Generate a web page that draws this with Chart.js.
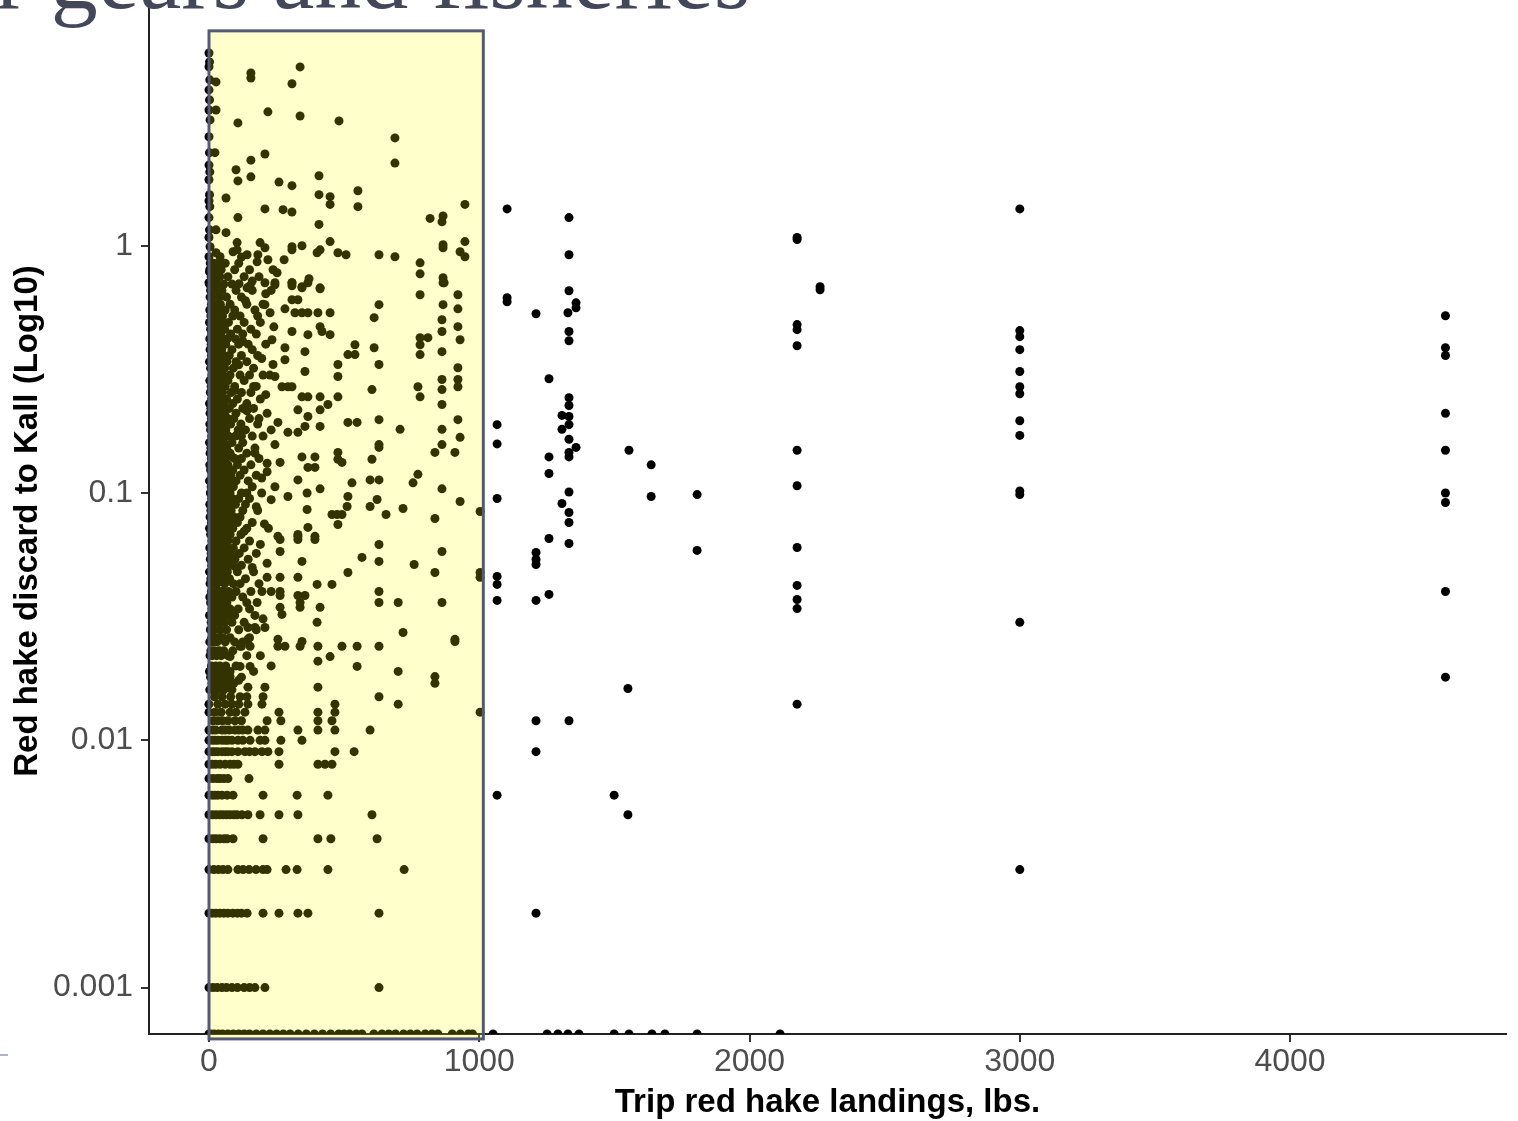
<!DOCTYPE html>
<html lang="en">
<head>
    <meta charset="UTF-8">
    <title>Red hake discard ratio vs trip landings</title>
    <script src="https://cdn.jsdelivr.net/npm/chart.js"></script>
    <style>
        body { margin: 0; background: #fff; overflow: hidden; }
        #wrap { position: relative; width: 1518px; height: 1121px; }
        #slideTitle {
            position: absolute; left: -4px; top: -71px; margin: 0;
            font: 94px/1 'Liberation Serif', 'DejaVu Serif', serif;
            color: #43475a; white-space: nowrap;
        }
        #dash { position: absolute; left: 0; top: 1054px; width: 8px; height: 2px; background: #a7b6cc; }
        canvas { position: absolute; left: 0; top: 0; }
    </style>
</head>
<body>
<div id="wrap">
    <canvas id="hakeChart" width="1518" height="1121"></canvas>
    <div id="slideTitle">r gears and fisheries</div>
    <div id="dash"></div>
</div>

<script>
    // axis ticks
    const xTicks = [0, 1000, 2000, 3000, 4000];
    const yTicks = [0.001, 0.01, 0.1, 1];
    const xRange = [-222, 4799];
    const yRange = [0.000649, 9.155];

    // highlighted box (landings under ~1000 lbs)
    const boxX = [0, 1015];
    const boxY = [0.00062, 7.4];

    // trips with zero discard (drawn on the bottom edge, like -Inf on a log scale)
    const zeroDiscardLandings = [0, 8, 20, 35, 50, 70, 90, 110, 130, 150, 175, 200, 225, 250, 275, 300, 330, 360,
        390, 420, 450, 480, 500, 520, 545, 566, 610, 640, 665, 690, 720, 745, 770, 800, 825, 847, 900, 930, 960, 975,
        1051, 1251, 1291, 1328, 1369, 1499, 1554, 1639, 1687, 1806, 2113];

    // [landings, discard ratio] — points near x = 0 and the top of the plot
    const edgeTrips = [[0,6.02],[2,5.54],[0,5.3],[3,4.69],[26,4.6],[0,4.27],[2,3.89],[0,3.54],[26,3.54],[4,3.23],
        [0,2.76],[2,2.38],[22,2.38],[0,2.12],[3,1.99],[0,1.85],[2,1.61],[0,1.52],[3,1.44],[0,1.3],[2,1.16],[0,1.08],
        [4,0.991],[0,0.903],[2,0.785],[0,0.709],
        [337,5.29],[155,5.0],[155,4.77],[307,4.52],[218,3.48],[337,3.35],[107,3.14],[481,3.2],[688,2.73],[688,2.16],
        [207,2.35],[155,2.22],[100,2.03],[107,1.83],[155,1.9],[259,1.81],[307,1.75],[407,1.92],[63,1.56],[407,1.61],
        [448,1.58],[448,1.47],[551,1.67],[551,1.44],[947,1.47],[207,1.41],[274,1.4],[307,1.37],[107,1.3],[818,1.29],
        [866,1.32],[862,1.25],[407,1.22],[63,1.13],[26,1.16],[104,1.03],[104,0.963],[89,0.946],[189,1.03],[207,0.982],
        [181,0.92],[218,0.878],[178,0.861],[141,0.92],[307,0.991],[307,0.963],[344,1.0],[400,0.937],[411,0.963],
        [448,1.04],[477,0.937],[507,0.92],[629,0.92],[688,0.903],[278,0.878],[866,1.01],[866,0.982],[947,1.04],
        [929,0.946],[947,0.903],[781,0.853],[781,0.77],[866,0.743],[866,0.709],[237,0.8],[252,0.778],[111,0.702],
        [152,0.689],[141,0.676],[207,0.709],[244,0.695],[307,0.709],[307,0.689],[344,0.683],[370,0.736],[411,0.67],
        [26,0.937],[41,0.903],[26,0.823],[26,0.778]];

    // [landings, discard ratio] — dense cluster at low landings (estimated)
    const denseTrips = [
        [5,0.85],[18,0.85],[35,0.85],[60,0.85],[110,0.85],
        [3,0.8],[12,0.8],[28,0.8],[45,0.8],[95,0.8],[150,0.8],
        [8,0.75],[22,0.75],[40,0.75],[70,0.75],[130,0.75],[185,0.75],
        [2,0.7],[15,0.7],[30,0.7],[55,0.7],[85,0.7],
        [6,0.66],[20,0.66],[48,0.66],[100,0.66],[160,0.66],[230,0.66],
        [4,0.62],[12,0.62],[38,0.62],[65,0.62],[120,0.62],
        [9,0.58],[25,0.58],[42,0.58],[78,0.58],[140,0.58],[200,0.58],
        [3,0.55],[17,0.55],[33,0.55],[60,0.55],[95,0.55],[170,0.55],
        [7,0.52],[22,0.52],[50,0.52],[88,0.52],[115,0.52],
        [2,0.49],[14,0.49],[30,0.49],[45,0.49],[72,0.49],[130,0.49],[190,0.49],
        [6,0.46],[19,0.46],[36,0.46],[58,0.46],[105,0.46],[155,0.46],
        [10,0.44],[26,0.44],[44,0.44],[80,0.44],[125,0.44],[175,0.44],
        [3,0.42],[15,0.42],[32,0.42],[52,0.42],[68,0.42],[98,0.42],
        [8,0.4],[21,0.4],[39,0.4],[62,0.4],[110,0.4],[145,0.4],[210,0.4],
        [4,0.38],[13,0.38],[28,0.38],[47,0.38],[85,0.38],[160,0.38],
        [9,0.36],[24,0.36],[35,0.36],[55,0.36],[75,0.36],[120,0.36],[180,0.36],
        [2,0.34],[16,0.34],[30,0.34],[48,0.34],[66,0.34],[100,0.34],[140,0.34],
        [6,0.32],[20,0.32],[40,0.32],[58,0.32],[90,0.32],[165,0.32],
        [11,0.3],[25,0.3],[37,0.3],[52,0.3],[78,0.3],[115,0.3],[150,0.3],[200,0.3],
        [3,0.285],[14,0.285],[29,0.285],[44,0.285],[70,0.285],[130,0.285],
        [8,0.27],[22,0.27],[35,0.27],[60,0.27],[95,0.27],[175,0.27],
        [5,0.255],[17,0.255],[31,0.255],[50,0.255],[82,0.255],[120,0.255],[155,0.255],
        [10,0.24],[26,0.24],[42,0.24],[65,0.24],[105,0.24],[190,0.24],
        [2,0.23],[13,0.23],[34,0.23],[55,0.23],[88,0.23],[140,0.23],
        [7,0.22],[20,0.22],[38,0.22],[48,0.22],[75,0.22],[125,0.22],[165,0.22],
        [4,0.21],[16,0.21],[30,0.21],[58,0.21],[100,0.21],[215,0.21],
        [9,0.2],[24,0.2],[44,0.2],[70,0.2],[92,0.2],[150,0.2],
        [3,0.19],[12,0.19],[28,0.19],[52,0.19],[80,0.19],[118,0.19],[180,0.19],
        [6,0.18],[19,0.18],[36,0.18],[62,0.18],[108,0.18],[135,0.18],
        [10,0.17],[25,0.17],[45,0.17],[72,0.17],[98,0.17],[160,0.17],[200,0.17],
        [2,0.16],[15,0.16],[32,0.16],[55,0.16],[85,0.16],[125,0.16],
        [7,0.152],[21,0.152],[40,0.152],[66,0.152],[110,0.152],[170,0.152],
        [4,0.145],[13,0.145],[29,0.145],[50,0.145],[78,0.145],[140,0.145],
        [9,0.138],[23,0.138],[38,0.138],[60,0.138],[95,0.138],[120,0.138],[185,0.138],
        [3,0.13],[17,0.13],[34,0.13],[48,0.13],[70,0.13],[105,0.13],[155,0.13],
        [6,0.124],[20,0.124],[42,0.124],[63,0.124],[88,0.124],[130,0.124],
        [11,0.118],[27,0.118],[36,0.118],[58,0.118],[80,0.118],[115,0.118],[175,0.118],
        [2,0.112],[14,0.112],[31,0.112],[50,0.112],[72,0.112],[100,0.112],[145,0.112],
        [8,0.106],[22,0.106],[44,0.106],[65,0.106],[90,0.106],[160,0.106],
        [5,0.1],[18,0.1],[35,0.1],[55,0.1],[78,0.1],[120,0.1],[195,0.1],
        [10,0.095],[26,0.095],[40,0.095],[62,0.095],[85,0.095],[110,0.095],[150,0.095],
        [3,0.09],[15,0.09],[30,0.09],[48,0.09],[70,0.09],[98,0.09],[135,0.09],
        [7,0.085],[21,0.085],[38,0.085],[56,0.085],[82,0.085],[125,0.085],[180,0.085],
        [4,0.08],[12,0.08],[28,0.08],[45,0.08],[66,0.08],[92,0.08],[115,0.08],
        [9,0.076],[24,0.076],[36,0.076],[52,0.076],[75,0.076],[105,0.076],[160,0.076],
        [2,0.072],[16,0.072],[33,0.072],[60,0.072],[88,0.072],[140,0.072],[220,0.072],
        [6,0.068],[19,0.068],[42,0.068],[58,0.068],[78,0.068],[118,0.068],
        [11,0.064],[27,0.064],[39,0.064],[50,0.064],[70,0.064],[100,0.064],[150,0.064],
        [3,0.06],[14,0.06],[30,0.06],[46,0.06],[65,0.06],[90,0.06],[130,0.06],
        [8,0.057],[22,0.057],[36,0.057],[55,0.057],[80,0.057],[112,0.057],[175,0.057],
        [5,0.054],[18,0.054],[32,0.054],[48,0.054],[72,0.054],[96,0.054],[145,0.054],
        [10,0.051],[25,0.051],[40,0.051],[62,0.051],[85,0.051],[120,0.051],
        [2,0.048],[15,0.048],[28,0.048],[44,0.048],[68,0.048],[105,0.048],[165,0.048],
        [7,0.045],[20,0.045],[35,0.045],[52,0.045],[76,0.045],[135,0.045],
        [4,0.043],[12,0.043],[30,0.043],[58,0.043],[90,0.043],[115,0.043],
        [9,0.04],[23,0.04],[38,0.04],[50,0.04],[72,0.04],[100,0.04],[155,0.04],
        [3,0.038],[17,0.038],[33,0.038],[62,0.038],[85,0.038],[125,0.038],
        [6,0.036],[20,0.036],[44,0.036],[66,0.036],[140,0.036],
        [11,0.034],[26,0.034],[40,0.034],[55,0.034],[78,0.034],[108,0.034],
        [2,0.032],[14,0.032],[30,0.032],[48,0.032],[70,0.032],[95,0.032],[170,0.032],
        [8,0.03],[22,0.03],[36,0.03],[58,0.03],[85,0.03],[130,0.03],
        [5,0.028],[18,0.028],[42,0.028],[65,0.028],[110,0.028],
        [10,0.026],[24,0.026],[34,0.026],[52,0.026],[78,0.026],[150,0.026],
        [3,0.025],[15,0.025],[30,0.025],[60,0.025],[95,0.025],[125,0.025],
        [7,0.023],[20,0.023],[38,0.023],[55,0.023],[88,0.023],
        [4,0.022],[12,0.022],[28,0.022],[45,0.022],[70,0.022],[140,0.022],
        [9,0.02],[25,0.02],[40,0.02],[62,0.02],[100,0.02],
        [2,0.019],[16,0.019],[33,0.019],[52,0.019],[78,0.019],
        [6,0.018],[20,0.018],[36,0.018],[60,0.018],[120,0.018],
        [11,0.017],[27,0.017],[45,0.017],[68,0.017],[92,0.017],
        [3,0.016],[14,0.016],[30,0.016],[55,0.016],[85,0.016]];

    // [landings, discard ratio] — outer edge of the dense cluster (estimated)
    const spreadTrips = [[120,0.9],[160,0.72],[210,0.64],[135,0.6],[180,0.52],[240,0.47],[125,0.41],[195,0.35],
        [225,0.3],[165,0.27],[210,0.25],[140,0.215],[185,0.2],[230,0.18],[120,0.17],[170,0.145],[215,0.132],
        [195,0.115],[140,0.1],[230,0.094],[175,0.088],[205,0.075],[130,0.07],[190,0.062],[160,0.05],[215,0.052],
        [185,0.043],[230,0.04],[150,0.034],[200,0.031],[175,0.028],[120,0.024],[190,0.022],[165,0.019],
        [110,0.0175],[230,0.02],[100,0.05],[95,0.26],[110,0.33],[85,0.14]];

    // [landings, discard ratio] — rounded low ratios (0.001 .. 0.015)
    const lowRatioTrips = [
        [0,0.001],[15,0.001],[30,0.001],[48,0.001],[65,0.001],[85,0.001],[105,0.001],[130,0.001],[150,0.001],[170,0.001],[207,0.001],[629,0.001],
        [0,0.002],[12,0.002],[25,0.002],[40,0.002],[55,0.002],[70,0.002],[88,0.002],[105,0.002],[120,0.002],[141,0.002],[200,0.002],[259,0.002],[329,0.002],[366,0.002],[629,0.002],
        [0,0.003],[18,0.003],[35,0.003],[52,0.003],[70,0.003],[107,0.003],[126,0.003],[148,0.003],[174,0.003],[200,0.003],[215,0.003],[285,0.003],[326,0.003],[440,0.003],[722,0.003],
        [0,0.004],[14,0.004],[26,0.004],[40,0.004],[56,0.004],[67,0.004],[89,0.004],[200,0.004],[403,0.004],[451,0.004],[622,0.004],
        [0,0.005],[13,0.005],[26,0.005],[40,0.005],[52,0.005],[65,0.005],[78,0.005],[92,0.005],[104,0.005],[122,0.005],[144,0.005],[189,0.005],[259,0.005],[329,0.005],[603,0.005],
        [0,0.006],[12,0.006],[22,0.006],[33,0.006],[48,0.006],[67,0.006],[89,0.006],[200,0.006],[326,0.006],[440,0.006],
        [0,0.007],[15,0.007],[30,0.007],[41,0.007],[55,0.007],[70,0.007],[148,0.007],
        [0,0.008],[12,0.008],[25,0.008],[41,0.008],[60,0.008],[78,0.008],[92,0.008],[107,0.008],[259,0.008],[403,0.008],[429,0.008],[455,0.008],
        [0,0.009],[12,0.009],[22,0.009],[33,0.009],[48,0.009],[60,0.009],[70,0.009],[85,0.009],[107,0.009],[133,0.009],[150,0.009],[170,0.009],[196,0.009],[218,0.009],[259,0.009],[466,0.009],[537,0.009],
        [0,0.01],[12,0.01],[22,0.01],[33,0.01],[48,0.01],[60,0.01],[70,0.01],[85,0.01],[107,0.01],[125,0.01],[152,0.01],[189,0.01],[207,0.01],[266,0.01],[344,0.01],
        [0,0.011],[14,0.011],[25,0.011],[48,0.011],[60,0.011],[75,0.011],[96,0.011],[110,0.011],[125,0.011],[144,0.011],[181,0.011],[207,0.011],[329,0.011],[403,0.011],[466,0.011],[596,0.011],
        [15,0.012],[33,0.012],[50,0.012],[70,0.012],[96,0.012],[120,0.012],[215,0.012],[266,0.012],[403,0.012],[455,0.012],
        [0,0.013],[22,0.013],[45,0.013],[78,0.013],[100,0.013],[133,0.013],[259,0.013],[403,0.013],[466,0.013],
        [0,0.014],[33,0.014],[60,0.014],[85,0.014],[110,0.014],[144,0.014],[196,0.014],[466,0.014],[700,0.014],
        [20,0.015],[48,0.015],[80,0.015],[115,0.015],[140,0.015],[200,0.015],[629,0.015]];

    // [landings, discard ratio] — scattered trips from ~200 to ~1000 lbs
    const midTrips = [
        [244,0.709],[307,0.709],[366,0.709],[870,0.709],[144,0.676],[344,0.676],[411,0.676],[781,0.634],[921,0.634],
        [307,0.605],[329,0.605],[207,0.578],[629,0.578],[866,0.578],[921,0.556],[281,0.556],[226,0.536],[318,0.536],
        [344,0.536],[366,0.536],[403,0.536],[448,0.536],[611,0.512],[862,0.502],[411,0.471],[921,0.471],[307,0.45],
        [418,0.45],[862,0.45],[366,0.437],[448,0.437],[810,0.425],[781,0.425],[233,0.417],[929,0.417],[540,0.398],
        [781,0.398],[611,0.387],[281,0.387],[355,0.373],[862,0.373],[514,0.363],[540,0.363],[781,0.363],[281,0.346],
        [477,0.331],[629,0.331],[237,0.331],[921,0.321],[355,0.31],[244,0.296],[477,0.296],[921,0.288],[862,0.288],
        [270,0.269],[292,0.269],[307,0.269],[773,0.269],[921,0.269],[603,0.262],[862,0.262],[344,0.245],[366,0.245],
        [411,0.245],[477,0.245],[781,0.245],[440,0.228],[862,0.228],[329,0.217],[411,0.217],[366,0.204],[629,0.198],
        [921,0.198],[514,0.193],[548,0.193],[255,0.193],[355,0.186],[411,0.186],[707,0.181],[862,0.181],[292,0.176],
        [329,0.176],[929,0.168],[244,0.157],[629,0.157],[862,0.157],[629,0.153],[477,0.146],[836,0.146],[910,0.146],
        [344,0.14],[392,0.14],[603,0.137],[477,0.137],[263,0.133],[492,0.133],[366,0.127],[392,0.127],[215,0.122],
        [773,0.119],[596,0.113],[629,0.113],[329,0.113],[529,0.11],[755,0.11],[244,0.106],[411,0.104],[862,0.104],
        [363,0.1],[514,0.0968],[292,0.0968],[622,0.0942],[929,0.0924],[596,0.0882],[511,0.0882],[718,0.0866],
        [363,0.0858],[1003,0.0842],[455,0.0819],[474,0.0819],[492,0.0819],[655,0.0819],[836,0.0789],[477,0.0746],
        [366,0.0726],[255,0.0668],[329,0.0668],[392,0.0668],[329,0.068],[329,0.0649],[392,0.0649],[263,0.0649],
        [629,0.0619],[263,0.058],[862,0.058],[566,0.0549],[344,0.0529],[629,0.0529],[759,0.0514],[514,0.0477],
        [836,0.0477],[1003,0.0477],[215,0.0456],[263,0.0456],[329,0.0456],[1003,0.0456],[400,0.0427],[455,0.0427],
        [196,0.04],[263,0.04],[629,0.04],[329,0.0385],[355,0.0385],[263,0.0385],[178,0.0361],[337,0.0361],
        [629,0.0361],[700,0.0361],[862,0.0361],[337,0.0345],[411,0.0345],[263,0.0345],[270,0.0323],[400,0.03],
        [144,0.0286],[170,0.0286],[207,0.0286],[718,0.0273],[144,0.0256],[255,0.0256],[910,0.0256],[344,0.0251],
        [910,0.0251],[115,0.024],[152,0.024],[255,0.024],[281,0.024],[337,0.024],[403,0.024],[492,0.024],[548,0.024],
        [629,0.024],[78,0.0218],[448,0.0218],[403,0.0209],[115,0.0199],[152,0.0199],[548,0.0199],[700,0.019],
        [78,0.0181],[836,0.0181],[836,0.017],[70,0.0164],[144,0.0164],[207,0.0164],[403,0.0164],[1003,0.013]];

    // [landings, discard ratio] — trips above 1000 lbs
    const largeTrips = [
        [1103,1.41],[1332,1.3],[1332,0.92],[1332,0.658],[1103,0.617],[1103,0.594],[1358,0.588],[1358,0.561],
        [1210,0.531],[1328,0.536],[1332,0.45],[1332,0.413],[1258,0.29],[1332,0.243],[1332,0.226],[1306,0.206],
        [1332,0.204],[1332,0.189],[1306,0.181],[1066,0.189],[1066,0.158],[1332,0.165],[1358,0.153],[1332,0.146],
        [1332,0.14],[1258,0.14],[1554,0.149],[1636,0.13],[1258,0.12],[1066,0.095],[1332,0.101],[1306,0.0907],
        [1332,0.0834],[1332,0.076],[1636,0.0968],[1806,0.0986],[1258,0.0655],[1332,0.0625],[1210,0.0575],
        [1210,0.0539],[1210,0.0514],[1806,0.0586],[1066,0.046],[1066,0.0427],[1066,0.0368],[1210,0.0368],
        [1258,0.0389],[1066,0.006],[1210,0.012],[1210,0.009],[1210,0.002],[1332,0.012],[1499,0.006],[1550,0.005],
        [1550,0.0162],
        [2176,1.08],[2176,1.06],[2261,0.683],[2261,0.664],[2176,0.48],[2176,0.458],[2176,0.394],[2176,0.149],
        [2176,0.107],[2176,0.0602],[2176,0.0423],[2176,0.0371],[2176,0.0341],[2176,0.014],
        [3000,1.41],[3000,0.454],[3000,0.429],[3000,0.38],[3000,0.31],[3000,0.269],[3000,0.252],[3000,0.196],
        [3000,0.171],[3000,0.102],[3000,0.0986],[3000,0.03],[3000,0.003],
        [4575,0.521],[4575,0.387],[4575,0.36],[4575,0.21],[4575,0.149],[4575,0.1],[4575,0.0916],[4575,0.04],[4575,0.018]];

    const allTrips = [...edgeTrips, ...denseTrips, ...spreadTrips, ...lowRatioTrips, ...midTrips, ...largeTrips]
        .map(([x, y]) => ({ x: x, y: y }))
        .concat(zeroDiscardLandings.map(x => ({ x: x, y: yRange[0] })));

    const whiteBg = {
        id: 'whiteBg',
        beforeDraw(chart) {
            const ctx = chart.ctx;
            ctx.save();
            ctx.fillStyle = '#ffffff';
            ctx.fillRect(0, 0, chart.width, chart.height);
            ctx.restore();
        }
    };

    const highlightBox = {
        id: 'highlightBox',
        afterDraw(chart) {
            const { ctx, scales: { x, y } } = chart;
            const left = x.getPixelForValue(boxX[0]);
            const right = x.getPixelForValue(boxX[1]);
            const top = y.getPixelForValue(boxY[1]);
            const bottom = y.getPixelForValue(boxY[0]);
            ctx.save();
            ctx.fillStyle = 'rgba(255, 255, 0, 0.2)';
            ctx.fillRect(left, top, right - left, bottom - top);
            ctx.strokeStyle = '#535a78';
            ctx.lineWidth = 3;
            ctx.strokeRect(left, top, right - left, bottom - top);
            ctx.restore();
        }
    };

    // no extra room for tick labels at the ends of the axes
    function fixPadding(s) {
        s.paddingTop = 0;
        s.paddingBottom = 0;
        s.paddingLeft = 0;
        s.paddingRight = 0;
    }

    const tickFont = { family: "'Liberation Sans', Arial, sans-serif", size: 32, lineHeight: 1.2 };
    const titleFont = { family: "'Liberation Sans', Arial, sans-serif", size: 33, weight: 'bold', lineHeight: 1.1 };

    new Chart(document.getElementById('hakeChart').getContext('2d'), {
        type: 'scatter',
        data: {
            datasets: [{
                label: 'Trips',
                data: allTrips,
                backgroundColor: '#000000',
                borderWidth: 0,
                pointRadius: 4.5,
                pointHoverRadius: 4.5,
                clip: 0
            }]
        },
        options: {
            responsive: false,
            animation: false,
            devicePixelRatio: 1,
            layout: { padding: { top: 8, right: 12, left: 0, bottom: 0 } },
            plugins: { legend: { display: false }, tooltip: { enabled: false } },
            scales: {
                x: {
                    type: 'linear',
                    bounds: 'data',
                    min: xRange[0],
                    max: xRange[1],
                    afterBuildTicks: s => {
                        s.ticks = xTicks.map(v => ({ value: v }));
                        s.min = xRange[0];
                        s.max = xRange[1];
                    },
                    afterFit: fixPadding,
                    grid: { drawOnChartArea: false, drawTicks: true, tickLength: 8, color: '#333333', lineWidth: 2 },
                    border: { display: true, color: '#222222', width: 2 },
                    ticks: { font: tickFont, color: '#4d4d4d', padding: 1, maxRotation: 0,
                        callback: v => String(v) },
                    title: { display: true, text: 'Trip red hake landings, lbs.', font: titleFont, color: '#000000',
                        padding: { top: 2.3, bottom: 0 } }
                },
                y: {
                    type: 'logarithmic',
                    bounds: 'data',
                    min: yRange[0],
                    max: yRange[1],
                    afterBuildTicks: s => {
                        s.ticks = yTicks.map(v => ({ value: v }));
                        s.min = yRange[0];
                        s.max = yRange[1];
                    },
                    afterFit: s => { s.width = 149; fixPadding(s); },
                    grid: { drawOnChartArea: false, drawTicks: true, tickLength: 8, color: '#333333', lineWidth: 2 },
                    border: { display: true, color: '#222222', width: 2 },
                    ticks: { font: tickFont, color: '#4d4d4d', padding: 8,
                        callback: v => String(v) },
                    title: { display: true, text: 'Red hake discard to Kall (Log10)', font: titleFont, color: '#000000',
                        padding: { top: 10, bottom: 6.6 } }
                }
            }
        },
        plugins: [whiteBg, highlightBox]
    });
</script>
</body>
</html>
